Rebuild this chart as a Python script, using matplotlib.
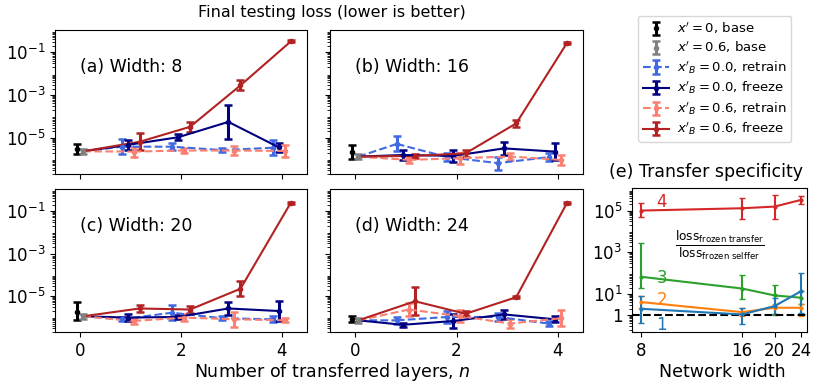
import numpy as np
import matplotlib
matplotlib.use("Agg")
import matplotlib.pyplot as plt
from matplotlib.ticker import LogLocator, NullLocator

# transferred layers and panel widths
n_layers = [1, 2, 3, 4]
widths = [8, 16, 20, 24]
panel_titles = ["(a) Width: 8", "(b) Width: 16", "(c) Width: 20", "(d) Width: 24"]

# base losses per width: (value, low, high)
base_0 = [(2.9e-6, 1.7e-6, 5.0e-6), (2.2e-6, 1.0e-6, 4.8e-6),
          (1.8e-6, 7.0e-7, 5.0e-6), (8.0e-7, 5.8e-7, 1.1e-6)]
base_06 = [(2.3e-6, 1.8e-6, 2.9e-6), (1.3e-6, 1.0e-6, 1.7e-6),
           (1.1e-6, 8.5e-7, 1.4e-6), (7.1e-7, 5.6e-7, 9.0e-7)]

# log10 of loss, per width, n = 1..4
retrain_00 = [[-5.42, -5.42, -5.58, -5.47], [-5.29, -5.91, -6.19, -5.91],
              [-6.10, -5.79, -6.05, -6.10], [-6.15, -5.99, -5.99, -6.30]]
freeze_00 = [[-5.34, -4.98, -4.26, -5.45], [-5.81, -5.85, -5.50, -5.65],
             [-6.02, -5.99, -5.59, -5.71], [-6.36, -6.18, -5.87, -6.10]]
retrain_06 = [[-5.65, -5.60, -5.60, -5.62], [-6.04, -5.96, -5.88, -6.04],
              [-6.18, -6.02, -6.10, -6.15], [-5.64, -5.95, -6.30, -6.05]]
freeze_06 = [[-5.19, -4.49, -2.55, -0.49], [-5.85, -5.73, -4.33, -0.58],
             [-5.59, -5.64, -4.66, -0.60], [-5.25, -5.84, -5.06, -0.63]]

# error half-widths in decades
retrain_00_err = [[0.35, 0.15, 0.1, 0.35], [0.35, 0.2, 0.3, 0.2],
                  [0.1, 0.35, 0.1, 0.15], [0.15, 0.3, 0.2, 0.1]]
freeze_00_err = [[0.23, 0.15, 0.8, 0.2], [0.25, 0.27, 0.3, 0.4],
                 [0.15, 0.1, 0.3, 0.45], [0.1, 0.35, 0.22, 0.15]]
retrain_06_err = [[0.23, 0.1, 0.23, 0.27], [0.15, 0.25, 0.15, 0.25],
                  [0.15, 0.18, 0.35, 0.1], [0.3, 0.28, 0.22, 0.38]]
freeze_06_err = [[0.4, 0.23, 0.23, 0.05], [0.1, 0.15, 0.18, 0.05],
                 [0.15, 0.18, 0.35, 0.05], [0.65, 0.12, 0.05, 0.05]]

# transfer specificity, log10 ratio per depth vs width
spec_vals = {1: [0.30, 0.03, 0.43, 1.14], 2: [0.62, 0.14, 0.35, 0.35],
             3: [1.83, 1.27, 0.94, 0.83], 4: [5.00, 5.11, 5.19, 5.51]}
spec_lo = {1: [-0.38, -0.43, 0.05, 0.08], 2: [0.34, -0.05, 0.05, -0.05],
           3: [1.30, 0.75, 0.00, 0.52], 4: [4.68, 4.62, 4.59, 5.30]}
spec_hi = {1: [0.92, 0.35, 0.80, 2.03], 2: [0.90, 0.35, 0.51, 0.51],
           3: [3.45, 1.90, 1.43, 1.16], 4: [5.35, 5.59, 5.76, 5.70]}

W, H = 830, 390
fig = plt.figure(figsize=(W / 100, H / 100), dpi=100)
plt.rcParams['font.size'] = 10

boxes = [(55, 30, 252, 144), (330, 30, 253, 144), (55, 189, 252, 143), (330, 189, 253, 143)]
axes = []
for (x, y, w, h) in boxes:
    axes.append(fig.add_axes([x / W, 1 - (y + h) / H, w / W, h / H]))

series = [
    (retrain_00, retrain_00_err, -0.18, 'royalblue', '--', r"$x'_B=0.0$, retrain"),
    (freeze_00, freeze_00_err, -0.06, 'navy', '-', r"$x'_B=0.0$, freeze"),
    (retrain_06, retrain_06_err, 0.06, 'salmon', '--', r"$x'_B=0.6$, retrain"),
    (freeze_06, freeze_06_err, 0.18, 'firebrick', '-', r"$x'_B=0.6$, freeze"),
]

handles = []
for i, ax in enumerate(axes):
    b0, b0lo, b0hi = base_0[i]
    b6, b6lo, b6hi = base_06[i]
    h0 = ax.errorbar([-0.07], [b0], yerr=[[b0 - b0lo], [b0hi - b0]], fmt='o', ms=3,
                     color='black', capsize=3, elinewidth=2.2, capthick=1.8,
                     label=r"$x'=0$, base")
    h6 = ax.errorbar([0.06], [b6], yerr=[[b6 - b6lo], [b6hi - b6]], fmt='o', ms=3,
                     color='gray', capsize=3, elinewidth=2.2, capthick=1.8,
                     label=r"$x'=0.6$, base")
    hs = [h0, h6]
    for vals, errs, off, col, ls, lab in series:
        v = np.array(vals[i])
        e = np.array(errs[i])
        xs = np.array(n_layers) + off
        y = 10 ** v
        lo = y - 10 ** (v - e)
        hi = 10 ** (v + e) - y
        ax.plot([0.06, xs[0]], [b6, y[0]], color=col, ls=ls, lw=1.5)
        hh = ax.errorbar(xs, y, yerr=[lo, hi], fmt='o', ms=3, color=col, ls=ls, lw=1.5,
                         capsize=3, elinewidth=2.2, capthick=1.8, label=lab)
        hs.append(hh)
    if i == 0:
        handles = hs
    ax.set_yscale('log')
    ax.set_ylim(2e-7, 1.1)
    ax.set_xlim(-0.5, 4.5)
    ax.set_xticks([0, 2, 4])
    ax.text(0.1, 0.74, panel_titles[i], transform=ax.transAxes, fontsize=12.5,
            va='center', ha='left')
    ax.set_yticks([1e-5, 1e-3, 1e-1])
    ax.yaxis.set_minor_locator(LogLocator(base=10, subs=np.arange(2, 10), numticks=20))
    ax.yaxis.set_minor_formatter(matplotlib.ticker.NullFormatter())
    if i in (1, 3):
        ax.set_yticklabels([])
    if i in (0, 1):
        ax.set_xticklabels([])
    ax.tick_params(labelsize=12)

fig.text(332 / W, 1 - 13 / H, "Final testing loss (lower is better)", ha='center',
         va='center', fontsize=11.5)
fig.text(332 / W, 1 - 372 / H, "Number of transferred layers, $n$", ha='center',
         va='center', fontsize=12.5)

fig.legend(handles=handles, loc='upper right', bbox_to_anchor=(798 / W, 1 - 9 / H),
           fontsize=9.5, handlelength=2, borderpad=0.35, labelspacing=0.3,
           handletextpad=0.6)

# (e) transfer specificity
axe = fig.add_axes([632 / W, 1 - 332 / H, 175 / W, 144 / H])
spec_colors = {1: 'tab:blue', 2: 'tab:orange', 3: 'tab:green', 4: 'tab:red'}
label_y = {1: 0.35, 2: 5.0, 3: 60, 4: 2.5e5}
for d in [4, 3, 2, 1]:
    v = np.array(spec_vals[d])
    y = 10 ** v
    lo = y - 10 ** np.array(spec_lo[d])
    hi = 10 ** np.array(spec_hi[d]) - y
    axe.errorbar(widths, y, yerr=[lo, hi], color=spec_colors[d], marker='o', ms=2,
                 capsize=2, lw=1.5, elinewidth=1.5)
    axe.text(9.2, label_y[d], str(d), color=spec_colors[d], fontsize=12,
             ha='center', va='center')
axe.axhline(1, color='black', ls='--', lw=1.5)
axe.set_xscale('log')
axe.set_yscale('log')
axe.set_xlim(7.5, 25)
axe.set_ylim(0.155, 1.2e6)
axe.set_xticks(widths)
axe.set_xticklabels([str(w) for w in widths])
axe.xaxis.set_minor_locator(NullLocator())
axe.set_yticks([1, 10, 1e3, 1e5])
axe.set_yticklabels(['1', '$10^1$', '$10^3$', '$10^5$'])
axe.yaxis.set_minor_locator(LogLocator(base=10, subs=np.arange(2, 10), numticks=20))
axe.yaxis.set_minor_formatter(matplotlib.ticker.NullFormatter())
axe.tick_params(labelsize=12)
axe.text(0.5, 0.6, r"$\frac{\mathrm{loss}_{\mathrm{frozen\ transfer}}}{\mathrm{loss}_{\mathrm{frozen\ selffer}}}$",
         transform=axe.transAxes, ha='center', va='center', fontsize=12.5)
fig.text(706 / W, 1 - 172 / H, "(e) Transfer specificity", ha='center', va='center',
         fontsize=12.5)
fig.text(722 / W, 1 - 372 / H, "Network width", ha='center', va='center', fontsize=12.5)

fig.savefig("out.png", dpi=100)
